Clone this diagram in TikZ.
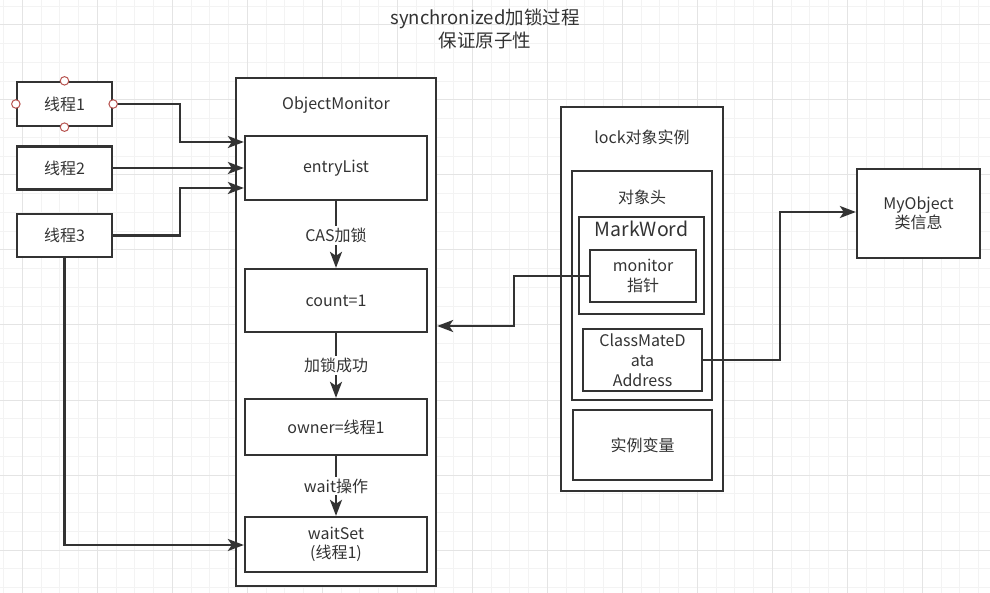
\documentclass[tikz,border=0pt]{standalone}
\usepackage{fontspec}
\setmainfont{Noto Sans CJK SC}
\usetikzlibrary{arrows.meta}
\definecolor{ink}{HTML}{333333}
\definecolor{minorg}{HTML}{F3F3F3}
\definecolor{majorg}{HTML}{E4E4E4}
\definecolor{dotred}{HTML}{B85450}
\tikzset{
  box/.style={draw=ink, line width=2.3pt, fill=white, text=ink, align=center, inner sep=0pt, font=\fontsize{16}{19.5}\selectfont},
  txt/.style={text=ink, align=center, inner sep=0pt, font=\fontsize{16}{19.5}\selectfont},
  lbl/.style={text=ink, fill=white, inner sep=2pt, font=\fontsize{16}{19.5}\selectfont},
  arr/.style={draw=ink, line width=2.3pt, -{Stealth[length=16pt,width=12pt,inset=4pt]}},
  cpt/.style={circle, draw=dotred, fill=white, line width=1pt, minimum size=8.5pt, inner sep=0pt},
}
\begin{document}
\begin{tikzpicture}[x=1pt,y=-1pt]
\useasboundingbox (0,0) rectangle (990,593);
\fill[white] (0,0) rectangle (990,593);
% grid
\foreach \i in {0,...,53} {
  \pgfmathsetmacro{\gx}{3.55+18.75*\i}
  \draw[minorg, line width=1pt] (\gx,0) -- (\gx,593);
}
\foreach \i in {0,...,32} {
  \pgfmathsetmacro{\gy}{6.25+18.75*\i}
  \draw[minorg, line width=1pt] (0,\gy) -- (990,\gy);
}
\foreach \i in {0,...,13} {
  \pgfmathsetmacro{\gx}{22.3+75*\i}
  \draw[majorg, line width=1pt] (\gx,0) -- (\gx,593);
}
\foreach \i in {0,...,7} {
  \pgfmathsetmacro{\gy}{25+75*\i}
  \draw[majorg, line width=1pt] (0,\gy) -- (990,\gy);
}
% title
\node[txt, font=\fontsize{18.5}{23}\selectfont] (title) at (485,28.5) {synchronized加锁过程\\保证原子性};
% threads
\node[box, minimum width=95pt, minimum height=44pt] (t1) at (64.5,104) {线程1};
\node[box, minimum width=95pt, minimum height=43pt] (t2) at (64.5,168) {线程2};
\node[box, minimum width=95pt, minimum height=43pt] (t3) at (64.5,235.5) {线程3};
% ObjectMonitor
\node[box, minimum width=200pt, minimum height=508pt] (om) at (336,332) {};
\node[txt] (omt) at (336,105) {ObjectMonitor};
\node[box, minimum width=182pt, minimum height=64pt] (entry) at (336,168) {entryList};
\node[box, minimum width=182pt, minimum height=63pt] (count) at (336,300.5) {count=1};
\node[box, minimum width=182pt, minimum height=56pt] (owner) at (336,427) {owner=线程1};
\node[box, minimum width=182pt, minimum height=55pt] (waitset) at (336,544.5) {waitSet\\(线程1)};
% lock object
\node[box, minimum width=162pt, minimum height=384pt] (lock) at (642,299) {};
\node[txt] (lockt) at (642,137) {lock对象实例};
\node[box, minimum width=140pt, minimum height=229pt] (header) at (642,285.5) {};
\node[txt] (headert) at (642,197) {对象头};
\node[box, minimum width=125pt, minimum height=97pt] (mark) at (641.5,265.5) {};
\node[txt, font=\fontsize{19.5}{23}\selectfont] (markt) at (641.5,229) {MarkWord};
\node[box, minimum width=106pt, minimum height=52pt] (mon) at (643,276) {monitor\\指针};
\node[box, minimum width=119pt, minimum height=62pt, font=\fontsize{16}{20}\selectfont] (cmd) at (642.5,360) {ClassMateD\\ata\\Address};
\node[box, minimum width=139pt, minimum height=70pt] (inst) at (642.5,445) {实例变量};
\node[box, minimum width=123pt, minimum height=89pt] (myobj) at (918.5,213.5) {MyObject\\类信息};
% connectors
\draw[arr] (t1.east) -- (180,104) -- (180,142) -- (entry.west |- 0,142);
\draw[arr] (t2.east) -- (entry.west |- t2.east);
\draw[arr] (t3.east) -- (180,235.5) -- (180,188) -- (entry.west |- 0,188);
\draw[arr] (t3.south) -- (64.5,545) -- (waitset.west |- 0,545);
\foreach \a in {north,south,east,west} { \node[cpt] (t1\a) at (t1.\a) {}; }
\draw[arr] (entry.south) -- (count.north) node[lbl, pos=0.52] (l1) {CAS加锁};
\draw[arr] (count.south) -- (owner.north) node[lbl, pos=0.5] (l2) {加锁成功};
\draw[arr] (owner.south) -- (waitset.north) node[lbl, pos=0.5] (l3) {wait操作};
\draw[arr] (mon.west) -- (514,276) -- (514,326) -- (om.east |- 0,326);
\draw[arr] (cmd.east) -- (780,360) -- (780,212) -- (myobj.west |- 0,212);
\end{tikzpicture}
\end{document}
